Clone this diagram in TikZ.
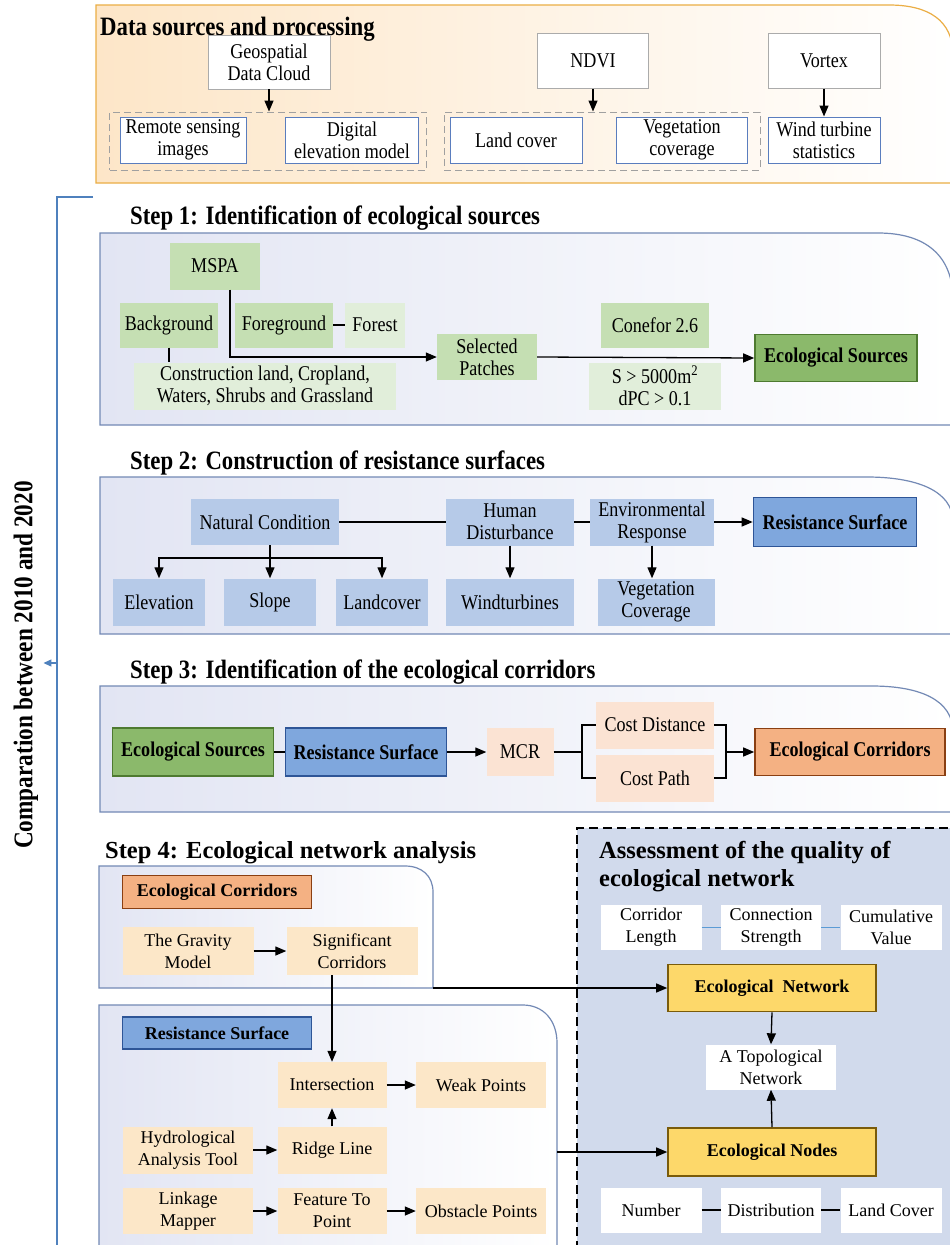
\documentclass[tikz,border=0pt]{standalone}
\usepackage{fontspec}
\setmainfont{Liberation Serif}
\newfontfamily\cnd{Liberation Serif}[FakeStretch=0.86]
\usetikzlibrary{arrows.meta}
\definecolor{orgline}{HTML}{EBAE45}
\definecolor{orgbg}{HTML}{FDE6C8}
\definecolor{stepline}{HTML}{7389B5}
\definecolor{stepbg}{HTML}{E2E5F3}
\definecolor{boxgray}{HTML}{ABABAB}
\definecolor{boxblue}{HTML}{5A7DBE}
\definecolor{grpgray}{HTML}{A0A0A0}
\definecolor{grnfill}{HTML}{C5DFB3}
\definecolor{grnpale}{HTML}{E1EEDA}
\definecolor{grnkeyfill}{HTML}{8BB96B}
\definecolor{grnline}{HTML}{4E7A30}
\definecolor{blufill}{HTML}{B6CAE8}
\definecolor{blukeyfill}{HTML}{7FA7DD}
\definecolor{bluline}{HTML}{2E5597}
\definecolor{pchfill}{HTML}{FBE3D3}
\definecolor{corfill}{HTML}{F4B183}
\definecolor{corline}{HTML}{8A3F12}
\definecolor{ylwfill}{HTML}{FCE7C8}
\definecolor{netfill}{HTML}{FDD86A}
\definecolor{netline}{HTML}{7A5B0A}
\definecolor{asmfill}{HTML}{D1DAEC}
\definecolor{cmpblue}{HTML}{4F81BD}
\definecolor{tieblue}{HTML}{5B9BD5}
\begin{document}
\begin{tikzpicture}[x=1pt,y=-1pt,
	wh/.style 2 args={minimum width=#1pt,minimum height=#2pt},
	bx/.style={align=center,inner sep=0pt,font=\cnd\fontsize{21}{22}\selectfont},
	bxw/.style={align=center,inner sep=0pt,font=\fontsize{18}{22}\selectfont},
	srcbox/.style={bx,draw=boxgray,fill=white,line width=0.8pt},
	datbox/.style={bx,draw=boxblue,fill=white,line width=1pt},
	grp/.style={draw=grpgray,line width=1pt,dash pattern=on 7pt off 4pt},
	grn/.style={bx,fill=grnfill},
	grnlt/.style={bx,fill=grnpale},
	grnkey/.style={bx,fill=grnkeyfill,draw=grnline,line width=1.6pt,font=\cnd\fontsize{21}{22}\selectfont\bfseries},
	blu/.style={bx,fill=blufill},
	blukey/.style={bx,fill=blukeyfill,draw=bluline,line width=1.6pt,font=\cnd\fontsize{21}{22}\selectfont\bfseries},
	bluhd/.style={bxw,fill=blukeyfill,draw=bluline,line width=1.6pt,font=\fontsize{18}{22}\selectfont\bfseries},
	pch/.style={bx,fill=pchfill},
	corkey/.style={bx,fill=corfill,draw=corline,line width=1.6pt,font=\cnd\fontsize{21}{22}\selectfont\bfseries},
	corhd/.style={bxw,fill=corfill,draw=corline,line width=1.6pt,font=\fontsize{18}{22}\selectfont\bfseries},
	ylw/.style={bxw,fill=ylwfill},
	netkey/.style={bxw,fill=netfill,draw=netline,line width=1.6pt,font=\fontsize{18}{22}\selectfont\bfseries},
	wht/.style={bxw,fill=white},
	ttl/.style={anchor=west,inner sep=0pt,font=\cnd\fontsize{26.5}{30}\selectfont\bfseries},
	panel/.style={draw=stepline,line width=1.2pt,left color=stepbg,right color=white},
	arr/.style={-{Triangle[length=11pt,width=9pt]},line width=1.3pt},
	ln/.style={line width=1.3pt}
]
	\fill[white] (0,0) rectangle (950,1245);
	\useasboundingbox (0,0) rectangle (950,1245);

	\draw[draw=orgline,line width=1.2pt,left color=orgbg,right color=white] (96,183) -- (96,5) -- (889,5) .. controls (928,5) and (953,20) .. (953,55) -- (953,183) -- cycle;
	\draw[panel] (100,425) -- (100,233) -- (878,233) .. controls (925,233) and (953,255) .. (953,300) -- (953,425) -- cycle;
	\draw[panel] (100,634) -- (100,477) -- (867,477) .. controls (915,477) and (953,490) .. (953,522) -- (953,634) -- cycle;
	\draw[panel] (100,812) -- (100,686) -- (872,686) .. controls (920,686) and (953,700) .. (953,732) -- (953,812) -- cycle;
	\draw[panel] (99,988) -- (99,866) -- (405,866) .. controls (422,866) and (433,876) .. (433,892) -- (433,988) -- cycle;
	\draw[panel] (99,1250) -- (99,1005) -- (523,1005) .. controls (543,1005) and (557,1020) .. (557,1043) -- (557,1250) -- cycle;
	\fill[asmfill] (577,828) rectangle (955,1250);
	\draw[line width=1.4pt,dash pattern=on 9pt off 5pt] (577,1250) -- (577,828) -- (955,828);

	\node (ttl0) at (100,29)[ttl]{Data sources and processing};
	\node (ttl1) at (130,218)[ttl]{Step 1: Identification of ecological sources};
	\node (ttl2) at (130,463)[ttl]{Step 2: Construction of resistance surfaces};
	\node (ttl3) at (130,672)[ttl]{Step 3: Identification of the ecological corridors};
	\node (ttl4) at (105,853)[ttl,font=\fontsize{24.5}{28}\selectfont\bfseries]{Step 4: Ecological network analysis};

	\node (geo) at (269,62)[srcbox,wh={122}{54}]{Geospatial\\Data Cloud};
	\node (ndvi) at (593,61)[srcbox,wh={111}{55}]{NDVI};
	\node (vortex) at (824,61)[srcbox,wh={112}{55}]{Vortex};
	\node (grpa) at (268,141)[grp,wh={317}{58}]{};
	\node (grpb) at (602,141)[grp,wh={316}{58}]{};
	\node (rsi) at (183,140)[datbox,wh={126}{46}]{Remote sensing\\images};
	\node (dem) at (352,140)[datbox,wh={133}{46}]{Digital\\elevation model};
	\node (land) at (516,140)[datbox,wh={132}{46}]{Land cover};
	\node (vegc) at (682,140)[datbox,wh={131}{46}]{Vegetation\\coverage};
	\node (wind) at (824,140)[datbox,wh={112}{46}]{Wind turbine\\statistics};
	\draw[arr] (geo.south) -- (geo.south |- grpa.north);
	\draw[arr] (ndvi.south) -- (ndvi.south |- grpb.north);
	\draw[arr] (vortex.south) -- (wind.north);

	\node (mspa) at (215,266)[grn,wh={90}{47}]{MSPA};
	\node (bg) at (169,325)[grn,wh={98}{45}]{Background};
	\node (fg) at (284,325)[grn,wh={98}{45}]{Foreground};
	\node (forest) at (375,325)[grnlt,wh={60}{45}]{Forest};
	\node (cons) at (265,386)[grnlt,wh={262}{47}]{Construction land, Cropland,\\Waters, Shrubs and Grassland};
	\node (sel) at (487,357)[grn,wh={100}{46}]{Selected\\Patches};
	\node (conefor) at (655,325)[grn,wh={108}{45}]{Conefor 2.6};
	\node (crit) at (655,386)[grnlt,wh={132}{47}]{S > 5000m\textsuperscript{2}\\dPC > 0.1};
	\node (esrc) at (836,358)[grnkey,wh={162}{47}]{Ecological Sources};
	\coordinate (mbend) at (230,357);
	\draw[ln] (fg.east) -- (forest.west);
	\draw[ln] (bg.south) -- (bg.south |- cons.north);
	\draw[arr] (mspa.south -| mbend) -- (mbend) -- (sel.west);
	\draw[arr] (sel.east) -- (esrc.west);

	\node (nat) at (265,522)[blu,wh={148}{46}]{Natural Condition};
	\node (hum) at (510,522)[blu,wh={128}{47}]{Human\\Disturbance};
	\node (env) at (652,522)[blu,wh={124}{47}]{Environmental\\Response};
	\node (res) at (835,522)[blukey,wh={163}{49}]{Resistance Surface};
	\node (elev) at (159,602)[blu,wh={92}{47}]{Elevation};
	\node (slope) at (270,602)[blu,wh={92}{47}]{Slope};
	\node (landc) at (382,602)[blu,wh={92}{47}]{Landcover};
	\node (windt) at (510,602)[blu,wh={128}{47}]{Windturbines};
	\node (vegcov) at (656,602)[blu,wh={117}{47}]{Vegetation\\Coverage};
	\coordinate (nbr) at (270,558);
	\draw[ln] (nat.east) -- (hum.west);
	\draw[ln] (hum.east) -- (env.west);
	\draw[arr] (env.east) -- (res.west);
	\draw[ln] (nat.south -| nbr) -- (nbr);
	\draw[arr] (nbr) -| (elev.north);
	\draw[arr] (nbr) -- (slope.north);
	\draw[arr] (nbr) -| (landc.north);
	\draw[arr] (hum.south) -- (windt.north);
	\draw[arr] (env.south) -- (env.south |- vegcov.north);

	\node (esrc3) at (193,752)[grnkey,wh={161}{48}]{Ecological Sources};
	\node (res3) at (366,752)[blukey,wh={161}{48}]{Resistance Surface};
	\node (mcr) at (520,752)[pch,wh={67}{48}]{MCR};
	\node (cdist) at (655,725)[pch,wh={118}{47}]{Cost Distance};
	\node (cpath) at (655,778)[pch,wh={118}{47}]{Cost Path};
	\node (ecor) at (850,752)[corkey,wh={190}{47}]{Ecological Corridors};
	\coordinate (bl) at (582,752);
	\coordinate (br) at (726,752);
	\draw[ln] (esrc3.east) -- (res3.west);
	\draw[arr] (res3.east) -- (mcr.west);
	\draw[ln] (mcr.east) -- (bl);
	\draw[ln] (cdist.west) -| (bl) |- (cpath.west);
	\draw[ln] (cdist.east) -| (br) |- (cpath.east);
	\draw[arr] (br) -- (ecor.west);

	\node (ecor4) at (217,892)[corhd,wh={189}{33}]{Ecological Corridors};
	\node (grav) at (188,951)[ylw,wh={131}{48}]{The Gravity\\Model};
	\node (sig) at (352,951)[ylw,wh={131}{48}]{Significant\\Corridors};
	\node (res4) at (217,1033)[bluhd,wh={189}{32}]{Resistance Surface};
	\node (inter) at (332,1085)[ylw,wh={109}{46}]{Intersection};
	\node (weak) at (481,1085)[ylw,wh={130}{46}]{Weak Points};
	\node (hydro) at (188,1150)[ylw,wh={130}{47}]{Hydrological\\Analysis Tool};
	\node (ridge) at (332,1150)[ylw,wh={109}{47}]{Ridge Line};
	\node (link) at (188,1211)[ylw,wh={130}{46}]{Linkage\\Mapper};
	\node (feat) at (332,1211)[ylw,wh={109}{46}]{Feature To\\Point};
	\node (obst) at (481,1211)[ylw,wh={130}{46}]{Obstacle Points};
	\draw[arr] (grav.east) -- (sig.west);
	\draw[arr] (sig.south -| inter.north) -- (inter.north);
	\draw[arr] (inter.east) -- (weak.west);
	\draw[arr] (hydro.east) -- (ridge.west);
	\draw[arr] (ridge.north) -- (inter.south);
	\draw[arr] (link.east) -- (feat.west);
	\draw[arr] (feat.east) -- (obst.west);

	\node (asmttl) at (599,867)[anchor=west,align=left,inner sep=0pt,font=\fontsize{24.5}{28}\selectfont\bfseries]{Assessment of the quality of\\ecological network};
	\node (clen) at (651,927)[wht,wh={101}{45}]{Corridor\\Length};
	\node (cstr) at (771,927)[wht,wh={100}{45}]{Connection\\Strength};
	\node (cval) at (891,927)[wht,wh={101}{45}]{Cumulative\\Value};
	\node (enet) at (772,988)[netkey,wh={208}{47}]{Ecological~ Network};
	\node (topo) at (771,1067)[wht,wh={130}{45}]{A Topological\\Network};
	\node (enodes) at (772,1152)[netkey,wh={208}{48}]{Ecological Nodes};
	\node (num) at (651,1210)[wht,wh={101}{45}]{Number};
	\node (dist) at (771,1210)[wht,wh={100}{45}]{Distribution};
	\node (lcov) at (891,1210)[wht,wh={101}{45}]{Land Cover};
	\coordinate (pa) at (433,988);
	\coordinate (pb) at (557,1152);
	\draw[tieblue,line width=1pt] (clen.east) -- (cstr.west);
	\draw[tieblue,line width=1pt] (cstr.east) -- (cval.west);
	\draw[arr] (pa) -- (enet.west);
	\draw[arr] (pb) -- (enodes.west);
	\draw[arr] (enet.south) -- (topo.north);
	\draw[arr] (enodes.north) -- (topo.south);
	\draw[ln] (num.east) -- (dist.west);
	\draw[ln] (dist.east) -- (lcov.west);

	\node (cmp) at (26,665)[rotate=90,inner sep=5pt,font=\cnd\fontsize{27}{30}\selectfont\bfseries]{Comparation between 2010 and 2020};
	\coordinate (cmptop) at (93,197);
	\coordinate (cmpin) at (57,663);
	\draw[cmpblue,line width=1.2pt] (cmptop) -- (cmptop -| cmpin) -- (57,1250);
	\draw[cmpblue,line width=1.2pt,-{Triangle[length=8pt,width=7pt]}] (cmpin) -- (cmp.south |- cmpin);
\end{tikzpicture}
\end{document}
